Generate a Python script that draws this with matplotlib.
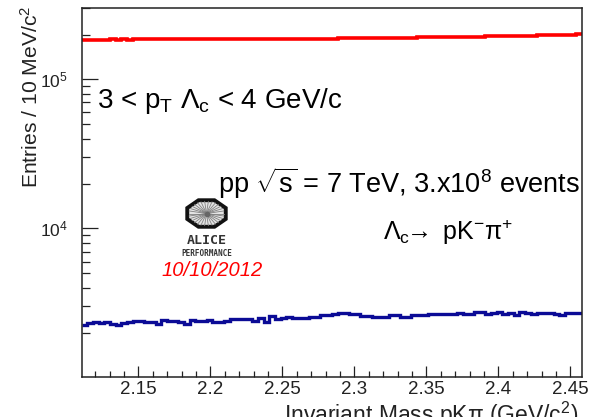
import numpy as np
import matplotlib
matplotlib.use("Agg")
import matplotlib.pyplot as plt
from matplotlib.ticker import LogLocator, MultipleLocator, NullFormatter
from matplotlib.patches import Polygon

plt.rcParams["font.family"] = ["Liberation Sans", "DejaVu Sans"]
plt.rcParams["mathtext.fontset"] = "custom"
plt.rcParams["mathtext.rm"] = "Liberation Sans"
plt.rcParams["mathtext.it"] = "Liberation Sans:italic"
plt.rcParams["mathtext.bf"] = "Liberation Sans:bold"

# histogram range (GeV/c^2) and bin contents
x_min, x_max = 2.1107, 2.458
n_bins = 88

# red histogram (upper curve)
red_counts = [
    184900, 185100, 184800, 185200, 185000, 185300, 185100, 185400, 185200, 185500, 185300,
    185600, 185400, 185700, 185500, 185800, 185600, 185900, 185700, 186000, 185800, 186100,
    185900, 186200, 186000, 186300, 186100, 186400, 186200, 186500, 186300, 186600, 186400,
    186700, 186500, 186800, 186600, 186900, 187000, 187300, 187200, 187600, 187800, 188100,
    188000, 188400, 188700, 188600, 189000, 189300, 189200, 189600, 189900, 189800, 190200,
    190000, 190500, 190800, 190700, 191200, 191500, 191400, 191900, 192300, 192200, 192700,
    193100, 193000, 193500, 193900, 193800, 194300, 194700, 195000, 195400, 195800, 196100,
    196500, 196400, 196900, 197300, 197700, 197600, 198100, 198600, 199000, 199500, 200500,
]

# blue histogram (lower curve)
blue_counts = [
    2248, 2308, 2366, 2308, 2366, 2284, 2248, 2308, 2366, 2403, 2403,
    2366, 2344, 2284, 2429, 2403, 2403, 2344, 2284, 2429, 2392, 2392,
    2429, 2366, 2344, 2403, 2456, 2456, 2456, 2467, 2403, 2494, 2344,
    2596, 2456, 2494, 2533, 2494, 2494, 2494, 2556, 2556, 2624, 2624,
    2665, 2719, 2694, 2665, 2665, 2596, 2596, 2556, 2556, 2556, 2624,
    2624, 2556, 2556, 2624, 2624, 2624, 2665, 2665, 2665, 2665, 2665,
    2694, 2650, 2650, 2761, 2761, 2665, 2719, 2761, 2665, 2694, 2624,
    2761, 2694, 2665, 2694, 2694, 2719, 2665, 2624, 2694, 2694, 2694,
]

W, H = 598, 417


def fx(px):
    return px / W


def fy(py):
    return 1 - py / H


fig = plt.figure(figsize=(W / 100, H / 100), dpi=100)
ax = fig.add_axes([fx(81.7), fy(376.7), fx(582) - fx(81.7), fy(8.3) - fy(376.7)])

edges = np.linspace(x_min, x_max, n_bins + 1)
ax.stairs(red_counts, edges, color="#ff0000", lw=2.6, baseline=None)
ax.stairs(blue_counts, edges, color="#0b0b96", lw=2.4, baseline=None)

ax.set_yscale("log")
ax.set_xlim(x_min, x_max)
ax.set_ylim(1012, 3e5)

ax.xaxis.set_major_locator(MultipleLocator(0.05))
ax.xaxis.set_minor_locator(MultipleLocator(0.01))
ax.xaxis.set_major_formatter(plt.FuncFormatter(lambda v, p: f"{v:g}"))
ax.yaxis.set_major_locator(LogLocator(base=10))
ax.yaxis.set_minor_locator(LogLocator(base=10, subs=np.arange(2, 10)))
ax.yaxis.set_minor_formatter(NullFormatter())

ax.tick_params(axis="both", which="both", direction="in", colors="#222222", width=0.9,
               top=False, right=False)
ax.tick_params(axis="y", which="major", length=11.5, pad=10, labelsize=12.5)
ax.tick_params(axis="y", which="minor", length=5.5)
ax.tick_params(axis="x", which="major", length=8, pad=3, labelsize=13.5)
ax.tick_params(axis="x", which="minor", length=4)
for s in ax.spines.values():
    s.set_linewidth(1.1)
    s.set_color("#222222")

# axis titles (ROOT style, placed at the ends)
fig.text(fx(31), fy(6), "Entries / 10 MeV/c$^{2}$", rotation=90, ha="center", va="top",
         fontsize=15.2, color="#222222")
fig.text(fx(578), fy(400), r"Invariant Mass pK$\mathrm{\pi}$ (GeV/c$^{2}$)", ha="right", va="top",
         fontsize=16.5, color="#222222")

# annotations
fig.text(fx(97), fy(101), r"3 < p$_{\mathrm{T}}$ $\Lambda_{\mathrm{c}}$ < 4 GeV/c", ha="left",
         va="center", fontsize=20)
fig.text(fx(218), fy(183), r"pp $\sqrt{\mathrm{s}}$ = 7 TeV, 3.x10$^{8}$ events", ha="left",
         va="center", fontsize=19.5)
fig.text(fx(383), fy(232), r"$\Lambda_{\mathrm{c}}\!\!\rightarrow$ pK$^{-}\mathrm{\pi}^{+}$", ha="left",
         va="center", fontsize=18)
fig.text(fx(212), fy(271), "10/10/2012", ha="center", va="center", fontsize=14.5,
         style="italic", color="#ff0000")

# ALICE performance logo
logo = fig.add_axes([fx(184), fy(229), fx(229) - fx(184), fy(198) - fy(229)])
logo.set_xlim(-1.08, 1.08)
logo.set_ylim(-1.08, 1.08)
logo.axis("off")
ang = np.deg2rad(22.5 + 45 * np.arange(8))
logo.add_patch(Polygon(np.c_[np.cos(ang), np.sin(ang)], closed=True, fc="#e4e4e4",
                       ec="#111111", lw=2.8))
ray = np.deg2rad(np.arange(0, 360, 12))
for a in ray:
    logo.plot([0, 0.85 * np.cos(a)], [0, 0.85 * np.sin(a)], color="#808080", lw=0.6)
logo.plot([0], [0], "o", color="#666666", ms=3)
fig.text(fx(206.5), fy(240.5), "ALICE", ha="center", va="center", fontsize=9.5, weight="bold",
         color="#333333", family="DejaVu Sans Mono")
fig.text(fx(206.5), fy(253.5), "PERFORMANCE", ha="center", va="center", fontsize=5.5,
         weight="bold", color="#333333", family="DejaVu Sans Mono")

fig.savefig("out.png", dpi=100)
